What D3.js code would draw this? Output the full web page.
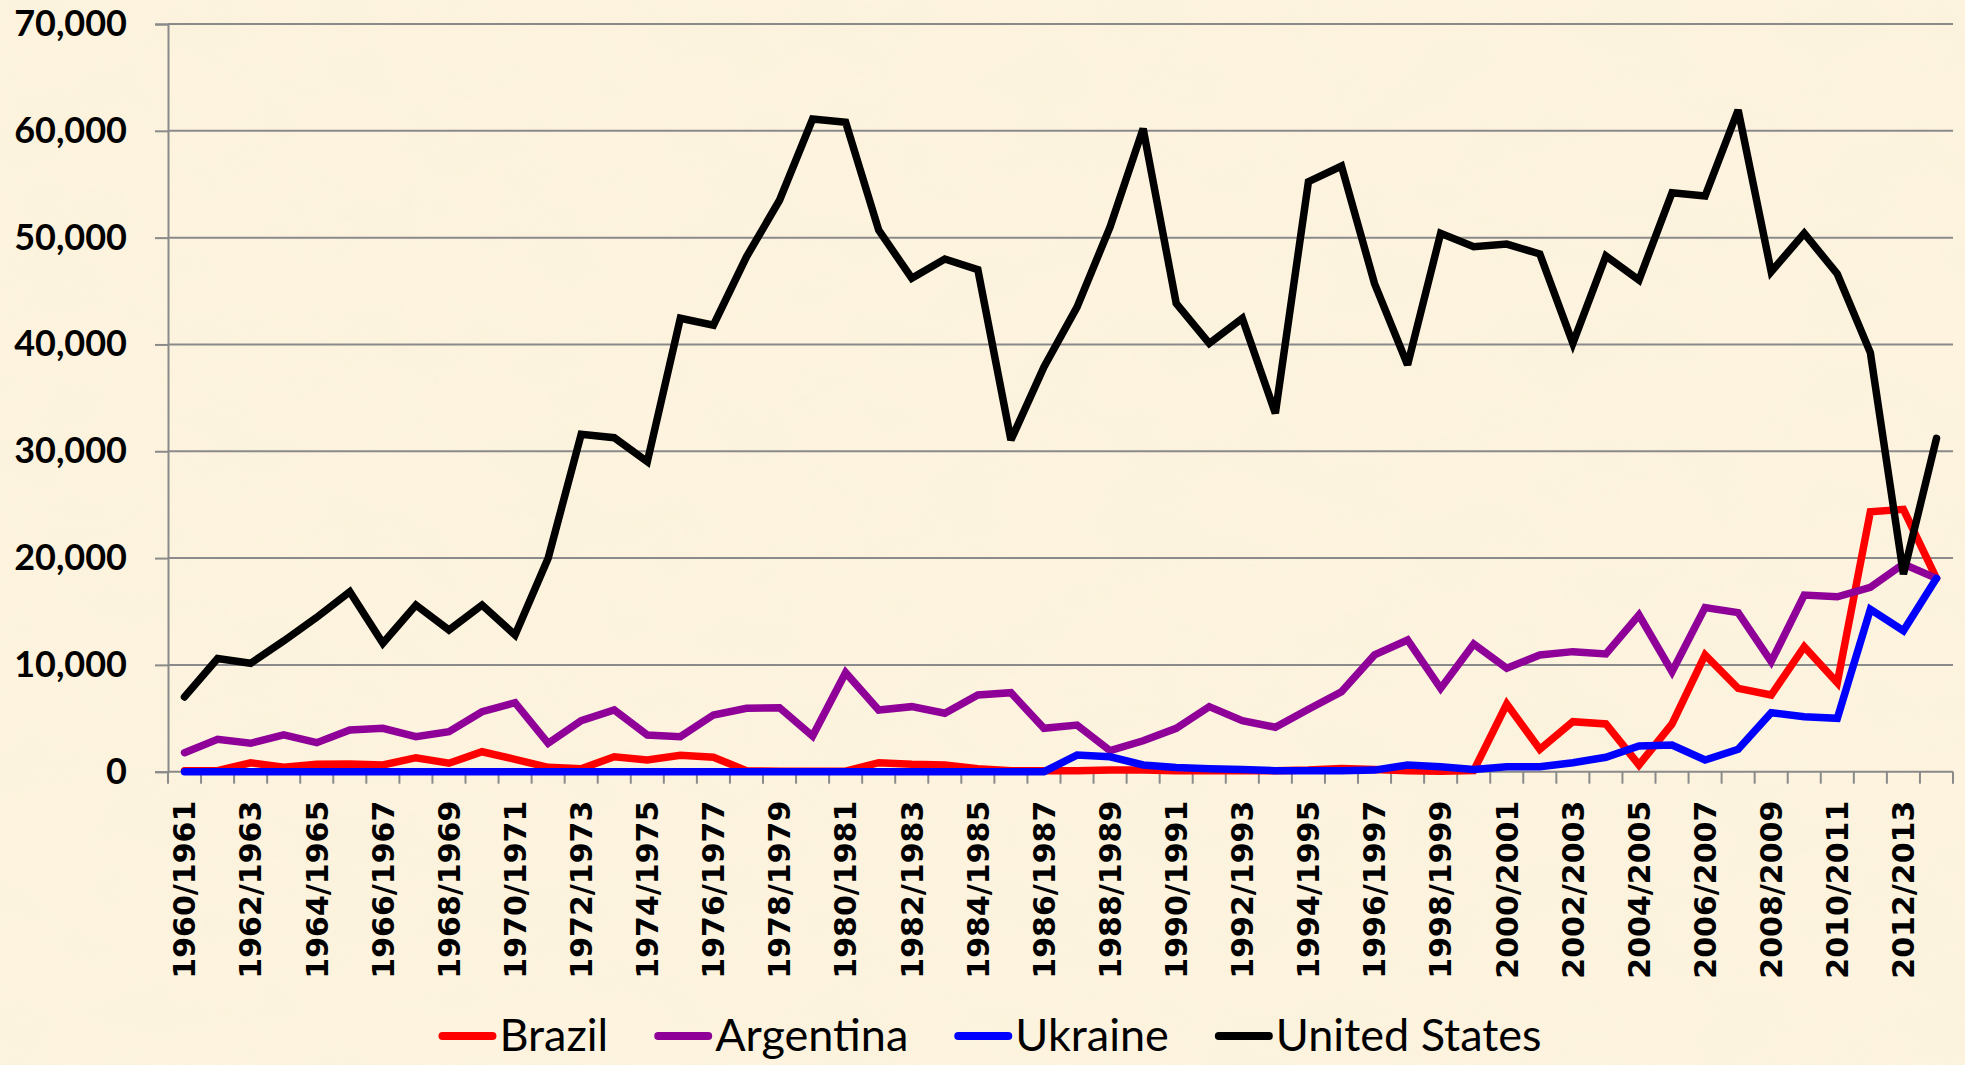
<!DOCTYPE html>
<html>
<head>
<meta charset="utf-8">
<script src="https://cdn.jsdelivr.net/npm/d3@7"></script>
<style>
  html, body { margin: 0; padding: 0; background: #fcf1da; }
  svg { display: block; }
</style>
</head>
<body>
<section></section>
<script>
// marketing years 1960/1961 .. 2013/2014
let years = [];
for (let yr = 1960; yr <= 2013; yr++) years.push(yr + '/' + (yr + 1));

let brazil = [100, 100, 840, 410, 690, 720, 630, 1310, 790, 1870,
  1160, 410, 280, 1400, 1100, 1540, 1350, 100, 50, 50,
  50, 840, 690, 630, 280, 100, 100, 100, 150, 150,
  100, 100, 100, 100, 150, 300, 200, 100, 50, 100,
  6340, 2100, 4680, 4470, 630, 4470, 10930, 7800, 7180, 11700,
  8330, 24340, 24560, 18100];

let argentina = [1780, 3030, 2660, 3440, 2720, 3900, 4060, 3280, 3750, 5620,
  6460, 2660, 4780, 5780, 3440, 3280, 5310, 5930, 5990, 3340,
  9270, 5780, 6090, 5470, 7180, 7400, 4060, 4370, 1970, 2900,
  4060, 6090, 4780, 4160, 5840, 7490, 10930, 12330, 7800, 11960,
  9680, 10930, 11240, 11020, 14670, 9360, 15360, 14890, 10300, 16540,
  16380, 17260, 19450, 18100];

let ukraine = [0, 0, 0, 0, 0, 0, 0, 0, 0, 0,
  0, 0, 0, 0, 0, 0, 0, 0, 0, 0,
  0, 0, 0, 0, 0, 0, 0, 1560, 1400, 630,
  400, 280, 200, 100, 100, 100, 150, 630, 470, 200,
  470, 470, 840, 1350, 2400, 2500, 1100, 2100, 5520, 5150,
  5000, 15200, 13200, 18100];

let unitedStates = [7000, 10600, 10150, 12240, 14450, 16850, 12020, 15600, 13270, 15600,
  12800, 19980, 31590, 31270, 29020, 42450, 41800, 48200, 53500, 61100,
  60800, 50700, 46200, 48000, 47000, 31050, 37900, 43500, 51000, 60200,
  43850, 40100, 42450, 33550, 55240, 56700, 45700, 38080, 50400, 49150,
  49400, 48470, 40100, 48280, 46030, 54210, 53900, 61950, 46810, 50400,
  46600, 39230, 18500, 31200];

let yTicks = [0, 10000, 20000, 30000, 40000, 50000, 60000, 70000];

let seriesNames = ['Brazil', 'Argentina', 'Ukraine', 'United States'];
let seriesColors = ['#ff0000', '#8e0098', '#0000ff', '#000000'];
let seriesValues = [brazil, argentina, ukraine, unitedStates];

let width = 1965;
let height = 1065;
let padLeft = 168, padRight = 1953, padTop = 24, padBottom = 771.7;

let svg = d3.select('section').append('svg')
  .attr('width', width)
  .attr('height', height);

// parchment background
let defs = svg.append('defs');
let paper = defs.append('filter').attr('id', 'paper')
  .attr('x', 0).attr('y', 0).attr('width', '100%').attr('height', '100%');
paper.append('feTurbulence')
  .attr('type', 'fractalNoise')
  .attr('baseFrequency', '0.01 0.016')
  .attr('numOctaves', 4)
  .attr('seed', 7);
paper.append('feColorMatrix')
  .attr('type', 'matrix')
  .attr('values', '0 0 0 0 0.95  0 0 0 0 0.89  0 0 0 0 0.72  1.6 0 0 0 -0.62');

svg.append('rect').attr('width', width).attr('height', height).attr('fill', '#fdf3de');
svg.append('rect').attr('width', width).attr('height', height)
  .attr('filter', 'url(#paper)').attr('opacity', 0.8);

let x = d3.scalePoint().domain(years).range([padLeft, padRight]).padding(0.5);
let xBand = d3.scaleBand().domain(years).range([padLeft, padRight]);
let y = d3.scaleLinear().domain([0, 70000]).range([padBottom, padTop]);

let gridColor = '#8a8a8a';

// horizontal gridlines
svg.append('g').selectAll('line')
  .data(yTicks.filter(d => d > 0))
  .enter().append('line')
  .attr('x1', padLeft).attr('x2', padRight)
  .attr('y1', d => y(d)).attr('y2', d => y(d))
  .attr('stroke', gridColor)
  .attr('stroke-width', 2);

// y axis
let yAxis = d3.axisLeft(y).tickValues(yTicks).tickSize(13).tickPadding(28)
  .tickFormat(d3.format(','));
let gy = svg.append('g')
  .attr('transform', 'translate(' + padLeft + ',0)')
  .call(yAxis);
gy.select('.domain').attr('stroke', gridColor).attr('stroke-width', 2);
gy.selectAll('.tick line').attr('stroke', gridColor).attr('stroke-width', 2);
gy.selectAll('.tick text')
  .attr('fill', '#000')
  .style('font-family', 'Lato, "Open Sans", sans-serif')
  .style('font-weight', 'bold')
  .style('font-size', '36px');

// x axis line + ticks at category boundaries
let gx = svg.append('g');
gx.append('line')
  .attr('x1', padLeft).attr('x2', padRight)
  .attr('y1', padBottom).attr('y2', padBottom)
  .attr('stroke', gridColor).attr('stroke-width', 2);
let bounds = years.map(c => xBand(c)).concat([xBand.range()[1]]);
gx.selectAll('line.tk')
  .data(bounds)
  .enter().append('line')
  .attr('class', 'tk')
  .attr('x1', d => d).attr('x2', d => d)
  .attr('y1', padBottom).attr('y2', padBottom + 12)
  .attr('stroke', gridColor).attr('stroke-width', 2);

// x labels, every other year, rotated
gx.selectAll('text')
  .data(years.filter((d, i) => i % 2 == 0))
  .enter().append('text')
  .attr('transform', d => 'translate(' + x(d) + ',' + (padBottom + 29) + ') rotate(-90)')
  .attr('text-anchor', 'end')
  .attr('dy', '0.36em')
  .style('font-family', '"DejaVu Sans", Verdana, sans-serif')
  .style('font-weight', 'bold')
  .style('font-size', '30px')
  .attr('fill', '#000')
  .text(d => d);

// series lines
let line = d3.line()
  .x((d, i) => x(years[i]))
  .y(d => y(d));

svg.append('g').selectAll('path')
  .data(seriesValues)
  .enter().append('path')
  .attr('d', d => line(d))
  .attr('fill', 'none')
  .attr('stroke', (d, i) => seriesColors[i])
  .attr('stroke-width', 7.5)
  .attr('stroke-linejoin', 'miter')
  .attr('stroke-miterlimit', 3)
  .attr('stroke-linecap', 'round');

// legend
let legendY = 1036;
let legend = svg.append('g');
let items = legend.selectAll('g')
  .data(seriesNames)
  .enter().append('g');
items.append('line')
  .attr('x1', 0).attr('x2', 50)
  .attr('y1', legendY).attr('y2', legendY)
  .attr('stroke', (d, i) => seriesColors[i])
  .attr('stroke-width', 8)
  .attr('stroke-linecap', 'round');
items.append('text')
  .attr('x', 57)
  .attr('y', legendY)
  .attr('dy', '0.34em')
  .style('font-family', 'Lato, "Open Sans", sans-serif')
  .style('font-size', '45px')
  .attr('fill', '#000')
  .text(d => d);

let gap = 50;
let widths = [];
items.each(function () {
  widths.push(57 + d3.select(this).select('text').node().getComputedTextLength());
});
let total = d3.sum(widths) + gap * (widths.length - 1);
let cx = 992 - total / 2;
items.attr('transform', (d, i) => {
  let t = 'translate(' + cx + ',0)';
  cx += widths[i] + gap;
  return t;
});
</script>
</body>
</html>
